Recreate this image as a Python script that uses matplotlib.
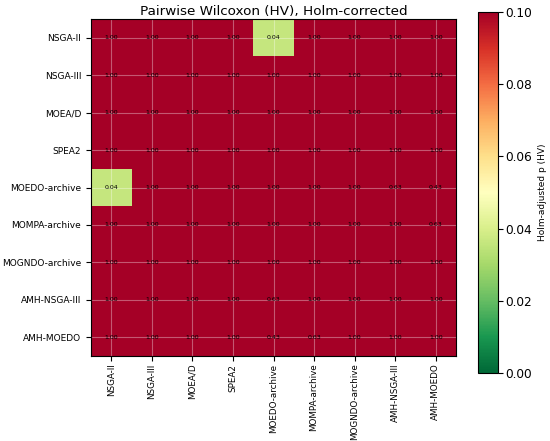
import matplotlib
matplotlib.use("Agg")
import matplotlib.pyplot as plt
import numpy as np

algorithms = ["NSGA-II", "NSGA-III", "MOEA/D", "SPEA2", "MOEDO-archive",
              "MOMPA-archive", "MOGNDO-archive", "AMH-NSGA-III", "AMH-MOEDO"]

# Holm-adjusted p-values (HV), row vs column
p_nsga2 = [1.00, 1.00, 1.00, 1.00, 0.036, 1.00, 1.00, 1.00, 1.00]
p_nsga3 = [1.00, 1.00, 1.00, 1.00, 1.00, 1.00, 1.00, 1.00, 1.00]
p_moead = [1.00, 1.00, 1.00, 1.00, 1.00, 1.00, 1.00, 1.00, 1.00]
p_spea2 = [1.00, 1.00, 1.00, 1.00, 1.00, 1.00, 1.00, 1.00, 1.00]
p_moedo = [0.036, 1.00, 1.00, 1.00, 1.00, 1.00, 1.00, 0.63, 0.43]
p_mompa = [1.00, 1.00, 1.00, 1.00, 1.00, 1.00, 1.00, 1.00, 0.63]
p_mogndo = [1.00, 1.00, 1.00, 1.00, 1.00, 1.00, 1.00, 1.00, 1.00]
p_amh_nsga3 = [1.00, 1.00, 1.00, 1.00, 0.63, 1.00, 1.00, 1.00, 1.00]
p_amh_moedo = [1.00, 1.00, 1.00, 1.00, 0.43, 0.63, 1.00, 1.00, 1.00]

pmat = np.array([p_nsga2, p_nsga3, p_moead, p_spea2, p_moedo,
                 p_mompa, p_mogndo, p_amh_nsga3, p_amh_moedo])

fig = plt.figure(figsize=(5.5, 4.41), dpi=100)
ax = fig.add_axes([91 / 550, 1 - 356 / 441, 365 / 550, 337 / 441])
cax = fig.add_axes([478 / 550, 1 - 373 / 441, 20 / 550, 361 / 441])

im = ax.imshow(pmat, cmap="RdYlGn_r", vmin=0, vmax=0.1, aspect="auto")
n = len(algorithms)
ax.set_xticks(range(n))
ax.set_yticks(range(n))
ax.set_xticklabels(algorithms, rotation=90, fontsize=6.3)
ax.set_yticklabels(algorithms, fontsize=6.5)
ax.tick_params(axis="x", pad=2)
ax.grid(True, color="white", alpha=0.35, linewidth=0.8)
ax.set_title("Pairwise Wilcoxon (HV), Holm-corrected", fontsize=9.7, pad=3)

for i in range(n):
    for j in range(n):
        ax.text(j, i, f"{pmat[i, j]:.2f}", ha="center", va="center",
                fontsize=4.5, color="black")

cb = fig.colorbar(im, cax=cax)
cb.set_label("Holm-adjusted p (HV)", fontsize=6.5)
cb.ax.tick_params(labelsize=8.7, pad=2)
cb.set_ticks([0, 0.02, 0.04, 0.06, 0.08, 0.10])

fig.savefig("out.png", dpi=100)
